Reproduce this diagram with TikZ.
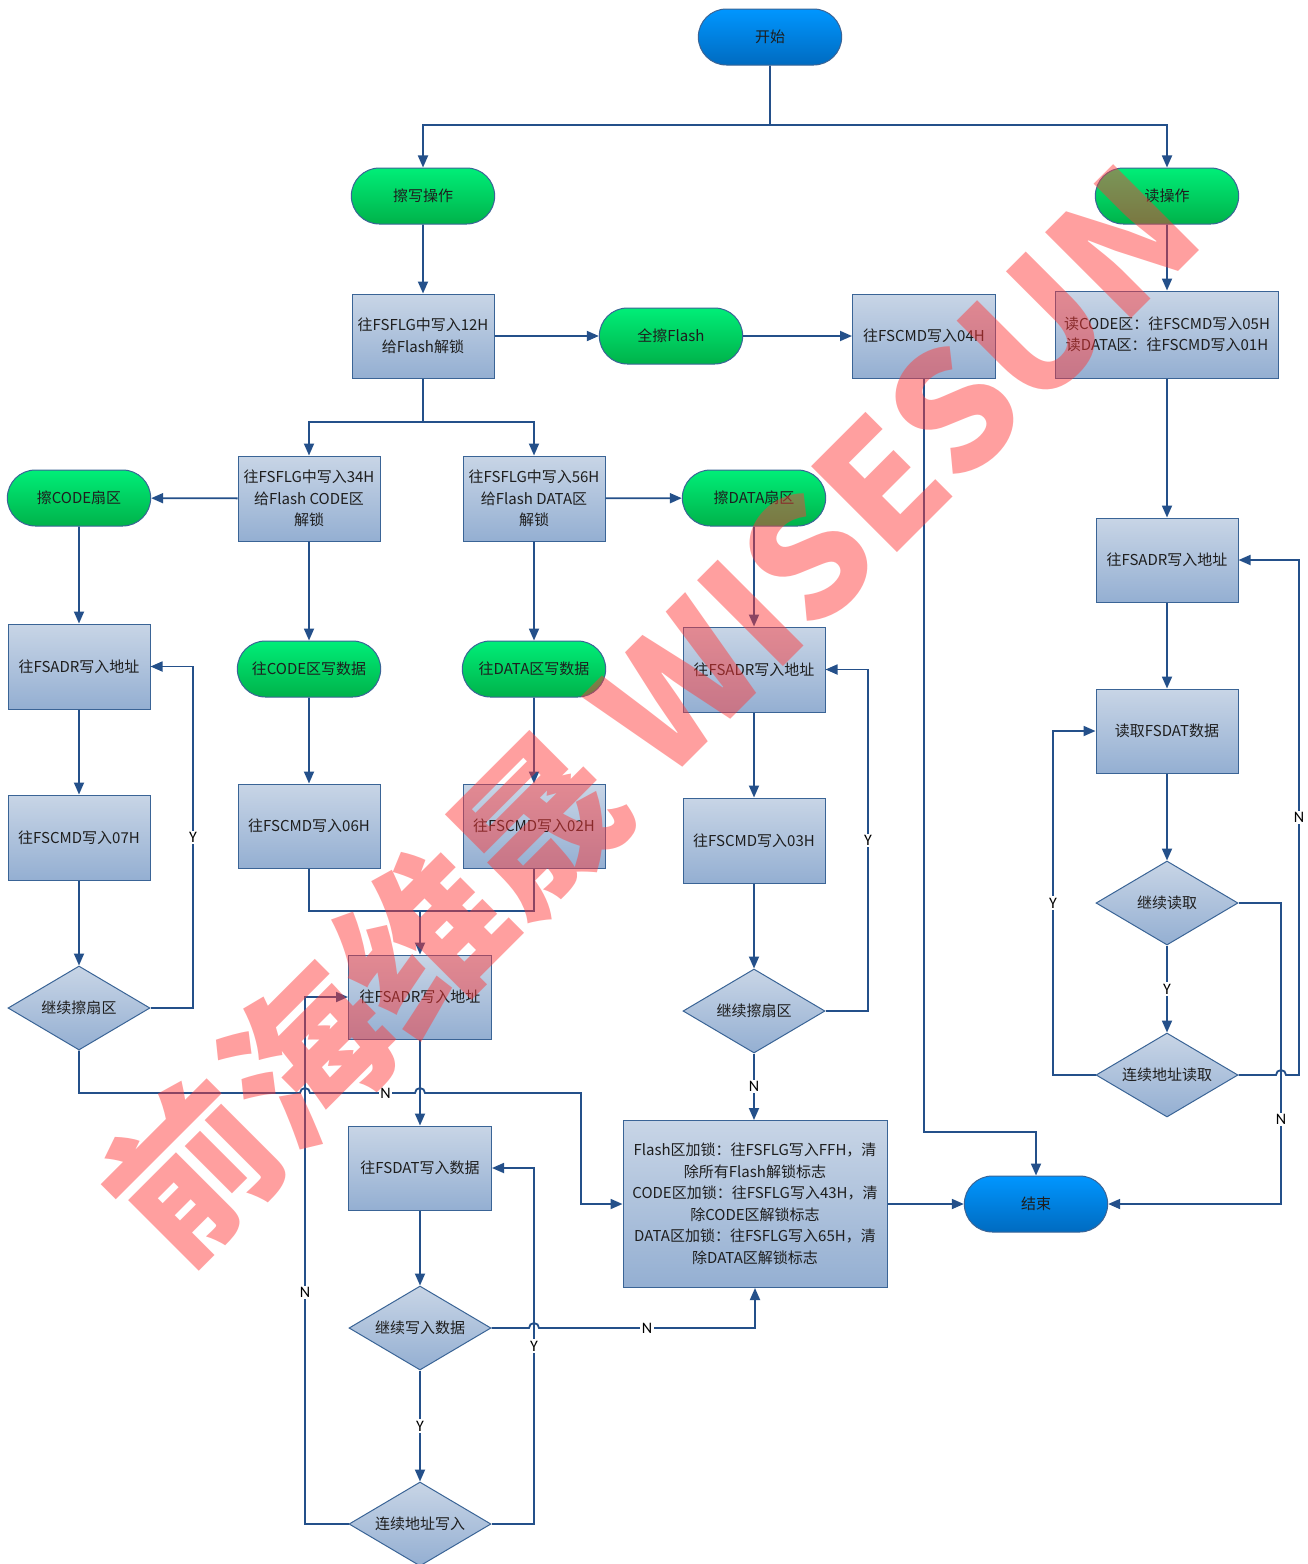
\documentclass[tikz,border=0pt]{standalone}
\usepackage{fontspec}
\setmainfont{Noto Sans CJK SC}
\newfontfamily\lat{Carlito}
\usetikzlibrary{arrows.meta,shapes.geometric,shapes.misc}
\definecolor{linec}{HTML}{24508A}
\definecolor{boxtop}{HTML}{C8D5E6}
\definecolor{boxbot}{HTML}{94AFD2}
\definecolor{boxborder}{HTML}{3A6496}
\definecolor{gtop}{HTML}{00EE78}
\definecolor{gbot}{HTML}{00B24A}
\definecolor{btop}{HTML}{0096FF}
\definecolor{bbot}{HTML}{006BC0}
\definecolor{termborder}{HTML}{3A6496}
\definecolor{txt}{HTML}{1E1E1E}
\definecolor{wmc}{HTML}{FF3838}
\begin{document}
\begin{tikzpicture}[x=1pt,y=-1pt,
  font=\fontsize{15}{21.5}\selectfont,
  box/.style={draw=boxborder, line width=1pt, top color=boxtop, bottom color=boxbot,
    minimum width=142pt, minimum height=84pt, align=center, inner sep=2pt, text=txt},
  term/.style={rounded rectangle, draw=termborder, line width=1pt,
    minimum width=150pt, minimum height=56pt, text=txt},
  gterm/.style={term, top color=gtop, bottom color=gbot},
  bterm/.style={term, top color=btop, bottom color=bbot},
  dec/.style={diamond, draw=boxborder, line width=1pt, top color=boxtop, bottom color=boxbot,
    minimum width=142pt, minimum height=84pt, inner sep=0pt, aspect=1.7, text=txt},
  ln/.style={draw=linec, line width=1.8pt},
  arr/.style={ln, -{Triangle[length=12pt,width=10pt]}},
  lab/.style={fill=white, inner sep=1.5pt, font=\lat\fontsize{16}{16}\selectfont, text=black},
  wmark/.style={text=wmc, text opacity=0.48, inner sep=0pt, font=\bfseries\fontsize{163}{163}\selectfont}
]
\fill[white] (0,0) rectangle (1308,1564);
\useasboundingbox (0,0) rectangle (1308,1564);

% ---------- nodes ----------
\node[bterm] (start) at (770,37) {开始};
\node[gterm] (ew) at (423,196) {擦写操作};
\node[gterm] (rd) at (1167,196) {读操作};
\node[box] (a12) at (423,336) {往FSFLG中写入12H\\给Flash解锁};
\node[gterm] (all) at (671,336) {全擦Flash};
\node[box, minimum width=143pt] (c04) at (924,336) {往FSCMD写入04H};
\node[box, minimum width=223pt, minimum height=87pt] (rdcmd) at (1167,334.5) {读CODE区：往FSCMD写入05H\\读DATA区：往FSCMD写入01H};

\node[box, minimum height=85pt] (b34) at (309,498.5) {往FSFLG中写入34H\\给Flash CODE区\\解锁};
\node[box, minimum height=85pt] (c56) at (534,498.5) {往FSFLG中写入56H\\给Flash DATA区\\解锁};
\node[gterm] (ecode) at (79,498) {擦CODE扇区};
\node[gterm] (edata) at (754,498) {擦DATA扇区};

\node[box, minimum height=85pt] (ladr) at (79,666.5) {往FSADR写入地址};
\node[box, minimum height=85pt] (l07) at (79,837.5) {往FSCMD写入07H};
\node[dec] (ldec) at (79,1008) {继续擦扇区};

\node[gterm] (wcode) at (309,669) {往CODE区写数据};
\node[box] (c06) at (309,826) {往FSCMD写入06H};
\node[gterm] (wdata) at (534,669) {往DATA区写数据};
\node[box] (c02) at (534,826) {往FSCMD写入02H};

\node[box, minimum width=143pt] (madr) at (420,997) {往FSADR写入地址};
\node[box, minimum width=143pt] (mdat) at (420,1168) {往FSDAT写入数据};
\node[dec] (mdec) at (420,1328) {继续写入数据};
\node[dec] (mcont) at (420,1524) {连续地址写入};

\node[box, minimum height=85pt] (radr) at (754,669.5) {往FSADR写入地址};
\node[box, minimum height=85pt] (r03) at (754,840.5) {往FSCMD写入03H};
\node[dec] (rdec) at (754,1011) {继续擦扇区};

\node[box, minimum width=264pt, minimum height=167pt] (lock) at (755,1204)
  {Flash区加锁：往FSFLG写入FFH，清\\除所有Flash解锁标志\\CODE区加锁：往FSFLG写入43H，清\\除CODE区解锁标志\\DATA区加锁：往FSFLG写入65H，清\\除DATA区解锁标志};
\node[bterm] (fin) at (1036,1204) {结束};

\node[box] (qadr) at (1167,560) {往FSADR写入地址};
\node[box] (qdat) at (1167,731) {读取FSDAT数据};
\node[dec] (qdec) at (1167,903) {继续读取};
\node[dec] (qcont) at (1167,1075) {连续地址读取};

% ---------- bend points ----------
\coordinate (s1) at (770,125);
\coordinate (s2) at (423,422);
\coordinate (e1) at (924,1132);
\coordinate (q1) at (1281,903);
\coordinate (q2) at (1281,1204);
\coordinate (h1) at (1276,1075);
\coordinate (q3) at (1299,1075);
\coordinate (q4) at (1299,560);
\coordinate (q5) at (1053,1075);
\coordinate (q6) at (1053,731);
\coordinate (l1) at (193,1008);
\coordinate (l2) at (193,666.5);
\coordinate (l3) at (79,1093);
\coordinate (h2) at (300,1093);
\coordinate (h3) at (415,1093);
\coordinate (l4) at (581,1093);
\coordinate (l5) at (581,1204);
\coordinate (m1) at (309,911);
\coordinate (m2) at (534,911);
\coordinate (m3) at (420,911);
\coordinate (h4) at (529,1328);
\coordinate (m4) at (755,1328);
\coordinate (m5) at (534,1524);
\coordinate (m6) at (534,1168);
\coordinate (m7) at (305,1524);
\coordinate (m8) at (305,997);
\coordinate (r1) at (868,1011);
\coordinate (r2) at (868,669.5);

% ---------- connectors ----------
\draw[ln] (start) -- (s1);
\draw[arr] (s1) -| (ew);
\draw[arr] (s1) -| (rd);
\draw[arr] (ew) -- (a12);
\draw[arr] (a12) -- (all);
\draw[arr] (all) -- (c04);
\draw[arr] (rd) -- (rdcmd);
\draw[arr] (c04) -- (e1) -| (fin);

\draw[arr] (rdcmd) -- (qadr);
\draw[arr] (qadr) -- (qdat);
\draw[arr] (qdat) -- (qdec);
\draw[arr] (qdec) -- node[lab]{Y} (qcont);
\draw[arr] (qdec.east) -- (q1) -- node[lab,pos=0.72]{N} (q2) -- (fin.east);
\draw[arr] (qcont.east) -- (h1) arc[start angle=180,end angle=0,radius=5pt] -- (q3) -- node[lab]{N} (q4) -- (qadr.east);
\draw[arr] (qcont.west) -- (q5) -- node[lab]{Y} (q6) -- (qdat.west);

\draw[ln] (a12) -- (s2);
\draw[arr] (s2) -| (b34);
\draw[arr] (s2) -| (c56);
\draw[arr] (b34) -- (ecode);
\draw[arr] (c56) -- (edata);

\draw[arr] (ecode) -- (ladr);
\draw[arr] (ladr) -- (l07);
\draw[arr] (l07) -- (ldec);
\draw[arr] (ldec.east) -- (l1) -- node[lab]{Y} (l2) -- (ladr.east);
\draw[arr] (ldec.south) -- (l3) -- (h2) arc[start angle=180,end angle=0,radius=5pt]
  -- node[lab,pos=0.72]{N} (h3) arc[start angle=180,end angle=0,radius=5pt] -- (l4) -- (l5) -- (lock.west);

\draw[arr] (b34) -- (wcode);
\draw[arr] (wcode) -- (c06);
\draw[arr] (c56) -- (wdata);
\draw[arr] (wdata) -- (c02);
\draw[ln] (c06) -- (m1) -- (m2) -- (c02);
\draw[arr] (m3) -- (madr);
\draw[arr] (madr) -- (mdat);
\draw[arr] (mdat) -- (mdec);
\draw[arr] (mdec) -- node[lab]{Y} (mcont);
\draw[arr] (mdec.east) -- (h4) arc[start angle=180,end angle=0,radius=5pt] -- node[lab]{N} (m4) -- (lock.south);
\draw[arr] (mcont.east) -- (m5) -- node[lab]{Y} (m6) -- (mdat.east);
\draw[arr] (mcont.west) -- (m7) -- node[lab,pos=0.44]{N} (m8) -- (madr.west);

\draw[arr] (edata) -- (radr);
\draw[arr] (radr) -- (r03);
\draw[arr] (r03) -- (rdec);
\draw[arr] (rdec.east) -- (r1) -- node[lab]{Y} (r2) -- (radr.east);
\draw[arr] (rdec) -- node[lab]{N} (rdec |- lock.north);
\draw[arr] (lock) -- (fin);

% ---------- watermark ----------
\node[wmark, rotate=45] (wm) at (650,712) {前海维晟 WISESUN};
\end{tikzpicture}
\end{document}
